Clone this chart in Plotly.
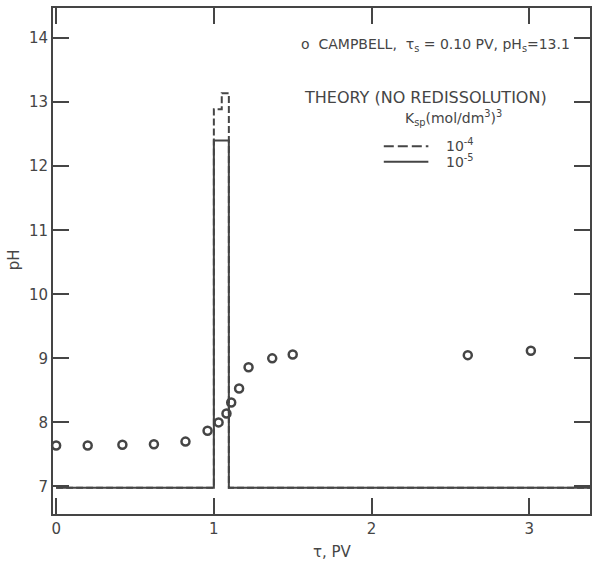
import plotly.graph_objects as go

# Observed data (Campbell)
obs_x = [0.0, 0.20, 0.42, 0.62, 0.82, 0.96, 1.03, 1.08, 1.11, 1.16, 1.22, 1.37, 1.50, 2.61, 3.01]
obs_y = [7.64, 7.64, 7.65, 7.66, 7.70, 7.87, 8.00, 8.14, 8.31, 8.53, 8.86, 9.00, 9.06, 9.05, 9.12]

# Theory, Ksp = 1e-4 (dashed)
th4_x = [0.0, 1.0, 1.0, 1.05, 1.05, 1.095, 1.095, 3.4]
th4_y = [6.98, 6.98, 12.89, 12.89, 13.14, 13.14, 6.98, 6.98]

# Theory, Ksp = 1e-5 (solid)
th5_x = [0.0, 1.0, 1.0, 1.095, 1.095, 3.4]
th5_y = [6.98, 6.98, 12.40, 12.40, 6.98, 6.98]

x_ticks = [0, 1, 2, 3]
y_ticks = [7, 8, 9, 10, 11, 12, 13, 14]

INK = "#454545"
FONT = "DejaVu Sans"

fig = go.Figure()
fig.add_trace(go.Scatter(x=th4_x, y=th4_y, mode="lines",
                         line=dict(color=INK, width=2, dash="7px,3px"), showlegend=False))
fig.add_trace(go.Scatter(x=th5_x, y=th5_y, mode="lines",
                         line=dict(color=INK, width=2), showlegend=False))
fig.add_trace(go.Scatter(x=obs_x, y=obs_y, mode="markers",
                         marker=dict(symbol="circle-open", size=8, color=INK, line=dict(width=2.5)),
                         showlegend=False, cliponaxis=False))

fig.update_xaxes(range=[-0.02, 3.385], tickvals=x_ticks, ticktext=[str(v) for v in x_ticks],
                 ticks="inside", ticklen=16, tickwidth=2, tickcolor=INK,
                 showline=True, linecolor=INK, linewidth=2, mirror="ticks",
                 showgrid=False, zeroline=False,
                 tickfont=dict(family=FONT, size=15, color=INK))
fig.update_yaxes(range=[6.57, 14.47], tickvals=y_ticks, ticktext=[str(v) for v in y_ticks],
                 ticks="inside", ticklen=16, tickwidth=2, tickcolor=INK,
                 showline=True, linecolor=INK, linewidth=2, mirror="ticks",
                 showgrid=False, zeroline=False,
                 tickfont=dict(family=FONT, size=15, color=INK))

ann_font = dict(family=FONT, size=14, color=INK)
annotations = [
    dict(text="pH", x=-0.072, y=0.502, xref="paper", yref="paper", textangle=-90,
         xanchor="center", yanchor="middle", showarrow=False,
         font=dict(family=FONT, size=15, color=INK)),
    dict(text="τ, PV", x=0.521, y=-0.075, xref="paper", yref="paper",
         xanchor="center", yanchor="middle", showarrow=False,
         font=dict(family=FONT, size=15, color=INK)),
    dict(text="o  CAMPBELL,  τ<sub>s</sub> = 0.10 PV, pH<sub>s</sub>=13.1",
         x=0.7124, y=0.9269, xref="paper", yref="paper", xanchor="center", yanchor="middle",
         showarrow=False, font=ann_font),
    dict(text="THEORY (NO REDISSOLUTION)", x=0.694, y=0.824, xref="paper", yref="paper",
         xanchor="center", yanchor="middle", showarrow=False,
         font=dict(family=FONT, size=16, color=INK)),
    dict(text="K<sub>sp</sub>(mol/dm<sup>3</sup>)<sup>3</sup>", x=0.745, y=0.783, xref="paper",
         yref="paper", xanchor="center", yanchor="middle", showarrow=False, font=ann_font),
    dict(text="10<sup>-4</sup>", x=0.729, y=0.729, xref="paper", yref="paper", xanchor="left",
         yanchor="middle", showarrow=False, font=ann_font),
    dict(text="10<sup>-5</sup>", x=0.729, y=0.698, xref="paper", yref="paper", xanchor="left",
         yanchor="middle", showarrow=False, font=ann_font),
]

shapes = [
    dict(type="line", xref="paper", yref="paper", x0=0.616, x1=0.699, y0=0.727, y1=0.727,
         line=dict(color=INK, width=2, dash="10px,4px")),
    dict(type="line", xref="paper", yref="paper", x0=0.616, x1=0.699, y0=0.696, y1=0.696,
         line=dict(color=INK, width=2)),
]

fig.update_layout(width=593, height=563, margin=dict(l=53, r=1, t=8, b=49),
                  paper_bgcolor="white", plot_bgcolor="white",
                  annotations=annotations, shapes=shapes)

fig.write_html("out.html")
